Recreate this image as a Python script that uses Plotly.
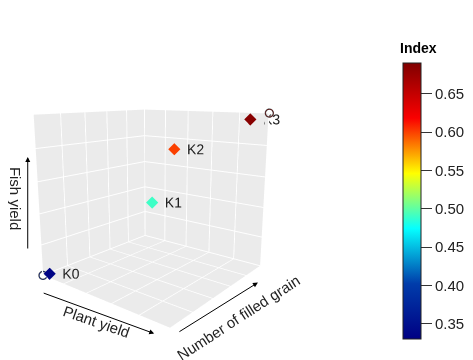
import plotly.graph_objects as go

labels = ["K0", "K1", "K2", "K3"]
plant_yield = [0.07, 0.48, 0.56, 0.90]
filled_grain = [0.00, 0.50, 0.62, 0.95]
fish_yield = [0.03, 0.45, 0.78, 0.96]
index_vals = [0.335, 0.49, 0.60, 0.685]

ref_plant = [0.0, 1.0]
ref_grain = [0.0, 1.0]
ref_fish = [0.0, 1.0]
ref_index = [0.37, 0.69]

cmin, cmax = 0.33, 0.69
cb_ticks = [0.35, 0.40, 0.45, 0.50, 0.55, 0.60, 0.65]

fig = go.Figure()
fig.add_trace(go.Scatter3d(
    x=plant_yield, y=filled_grain, z=fish_yield, mode="markers",
    marker=dict(symbol="diamond", size=4, color=index_vals, colorscale="Jet",
                cmin=cmin, cmax=cmax,
                colorbar=dict(tickvals=cb_ticks, ticktext=[f"{t:.2f}" for t in cb_ticks],
                              ticks="outside", ticklen=11, tickcolor="#333",
                              tickfont=dict(family="Liberation Sans", size=15, color="#222"),
                              thickness=18, lenmode="pixels", len=276,
                              x=0.815, xanchor="left", xpad=10,
                              y=1 - 193 / 360, yanchor="middle", ypad=0,
                              outlinecolor="#222", outlinewidth=1)),
    showlegend=False))
fig.add_trace(go.Scatter3d(
    x=ref_plant, y=ref_grain, z=ref_fish, mode="markers",
    marker=dict(symbol="circle-open", size=5, color=ref_index, colorscale="Jet",
                cmin=cmin, cmax=cmax, line=dict(width=2)),
    showlegend=False, hoverinfo="skip"))
fig.add_trace(go.Scatter3d(
    x=plant_yield, y=filled_grain, z=fish_yield, mode="text",
    text=labels, textposition="middle right",
    textfont=dict(family="Liberation Sans", size=14, color="#222"),
    showlegend=False, hoverinfo="skip"))

axis_common = dict(showbackground=True, backgroundcolor="#EBEBEB",
                   gridcolor="white", gridwidth=2, showticklabels=False,
                   zeroline=False, showspikes=False, showline=False,
                   title=dict(text=""), range=[0, 1], nticks=6)

arrow = dict(text="", showarrow=True, arrowhead=2, arrowsize=1, arrowwidth=1,
             arrowcolor="black")

fig.update_layout(
    width=473, height=360,
    margin=dict(l=0, r=0, t=0, b=0),
    paper_bgcolor="white",
    font=dict(family="Liberation Sans"),
    annotations=[dict(text="<b>Index</b>", x=410 / 473, y=1 - 40 / 360,
                      xref="paper", yref="paper", showarrow=False,
                      xanchor="center", yanchor="middle",
                      font=dict(family="Liberation Sans", size=14, color="black"))],
    scene=dict(
        domain=dict(x=[0, 0.62], y=[0, 1]),
        xaxis=axis_common, yaxis=axis_common, zaxis=axis_common,
        aspectmode="manual", aspectratio=dict(x=0.88, y=0.88, z=0.88),
        camera=dict(eye=dict(x=1.45, y=-1.8, z=0.55), up=dict(x=0, y=0, z=1),
                    center=dict(x=0, y=0, z=0.04)),
        annotations=[
            dict(x=0.5, y=0, z=0, text="Plant yield", showarrow=False,
                 textangle=19, yshift=-23, xshift=-2, font=dict(size=15, color="#222")),
            dict(x=1, y=0.5, z=0, text="Number of filled grain", showarrow=False,
                 textangle=-33, yshift=-25, xshift=16, font=dict(size=15, color="#222")),
            dict(x=0, y=0, z=0.5, text="Fish yield", showarrow=False,
                 textangle=90, xshift=-22, font=dict(size=15, color="#222")),
            dict(arrow, x=0.9, y=0, z=0, yshift=-12, ax=-112, ay=-41),
            dict(arrow, x=1, y=0.9, z=0, yshift=-12, xshift=4, ax=-80, ay=50),
            dict(arrow, x=0, y=0, z=0.75, xshift=-8, ax=0, ay=93),
        ],
    ),
)

fig.write_html("out.html")
